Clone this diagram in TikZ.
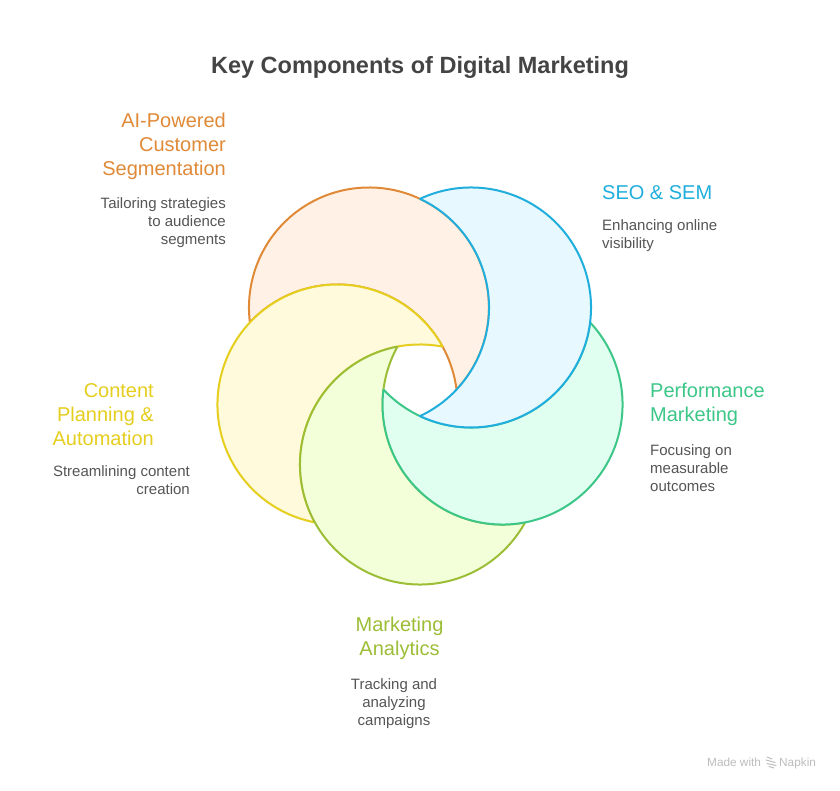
\documentclass[tikz,border=0pt]{standalone}
\usepackage{fontspec}
\setmainfont{Liberation Sans}
\usetikzlibrary{calc}
\definecolor{corange}{HTML}{E08A38}
\definecolor{cblue}{HTML}{20AEDC}
\definecolor{cgreen}{HTML}{3CC788}
\definecolor{clime}{HTML}{9CBE36}
\definecolor{cyellow}{HTML}{E5CE1E}
\definecolor{forange}{HTML}{FFF1E6}
\definecolor{fblue}{HTML}{E7F8FF}
\definecolor{fgreen}{HTML}{E1FFF0}
\definecolor{flime}{HTML}{F3FFD9}
\definecolor{fyellow}{HTML}{FFFADB}
\definecolor{bodygray}{HTML}{555555}
\definecolor{titlegray}{HTML}{444444}
\definecolor{markgray}{HTML}{BDBDBD}
\newcommand{\hl}{\rule{0pt}{20pt}}
\newcommand{\bl}{\rule{0pt}{14pt}}
\tikzset{
  x=1pt,y=1pt,
  headtext/.style={inner sep=0pt,font=\fontsize{20}{24}\selectfont},
  bodytext/.style={inner sep=0pt,text=bodygray,font=\fontsize{15}{18}\selectfont},
  petal/.style={line width=2pt,line join=round},
  markline/.style={draw=markgray,line width=1pt,line cap=round}
}
\begin{document}
\begin{tikzpicture}
\useasboundingbox (0,0) rectangle (840,790);
\fill[white] (0,0) rectangle (840,790);
\coordinate (O) at (420,412.3);
\def\rr{120}
\foreach \th/\st/\fl in {126/corange/forange,198/cyellow/fyellow,270/clime/flime,342/cgreen/fgreen,54/cblue/fblue}{
  \pgfmathsetmacro{\ph}{\th+126}
  \pgfmathsetmacro{\sa}{\ph+64.85}
  \pgfmathsetmacro{\sb}{\ph+244.85}
  \draw[petal,draw=\st,fill=\fl] ($(O)+(\th:86.8)+(\sa:\rr)$)
     arc[start angle=\sa,delta angle=230.3,radius=\rr]
     arc[start angle=\sb,delta angle=-129.7,radius=\rr] -- cycle;
}
\node[anchor=base,inner sep=0pt,text=titlegray,font=\fontsize{23.5}{30}\selectfont\bfseries] (title) at (420,716) {Key Components of Digital Marketing};
% AI
\node[headtext,text=corange,align=right,anchor=north east] (aih) at (226,683) {\hl AI-Powered\\Customer\\Segmentation};
\node[bodytext,align=right,anchor=north east] (aib) at (226,596) {\bl Tailoring strategies\\to audience\\segments};
% SEO
\node[headtext,text=cblue,align=left,anchor=north west] (seoh) at (602,611) {\hl SEO \& SEM};
\node[bodytext,align=left,anchor=north west] (seob) at (602,574) {\bl Enhancing online\\visibility};
% Performance
\node[headtext,text=cgreen,align=left,anchor=north west] (perfh) at (650,413) {\hl Performance\\Marketing};
\node[bodytext,align=left,anchor=north west] (perfb) at (650,349) {\bl Focusing on\\measurable\\outcomes};
% Content
\node[headtext,text=cyellow,align=right,anchor=north east] (conth) at (154,413) {\hl Content\\Planning \&\\Automation};
\node[bodytext,align=right,anchor=north east] (contb) at (190,328) {\bl Streamlining content\\creation};
% Analytics
\node[headtext,text=clime,align=center,anchor=north] (anah) at (399.5,179) {\hl Marketing\\Analytics};
\node[bodytext,align=center,anchor=north] (anab) at (394,115) {\bl Tracking and\\analyzing\\campaigns};
% Mark
\node[anchor=base west,inner sep=0pt,text=markgray,font=\fontsize{11.8}{14}\selectfont] (made) at (707,24) {Made with};
\node[anchor=base west,inner sep=0pt,text=markgray,font=\fontsize{11.8}{14}\selectfont] (napkin) at (779,24) {Napkin};
\draw[markline] (767,33) -- (772,31) (766,30) -- (775,27.5) (767,26.5) -- (776,24.5) (769,23.5) -- (774,22);
\end{tikzpicture}
\end{document}
